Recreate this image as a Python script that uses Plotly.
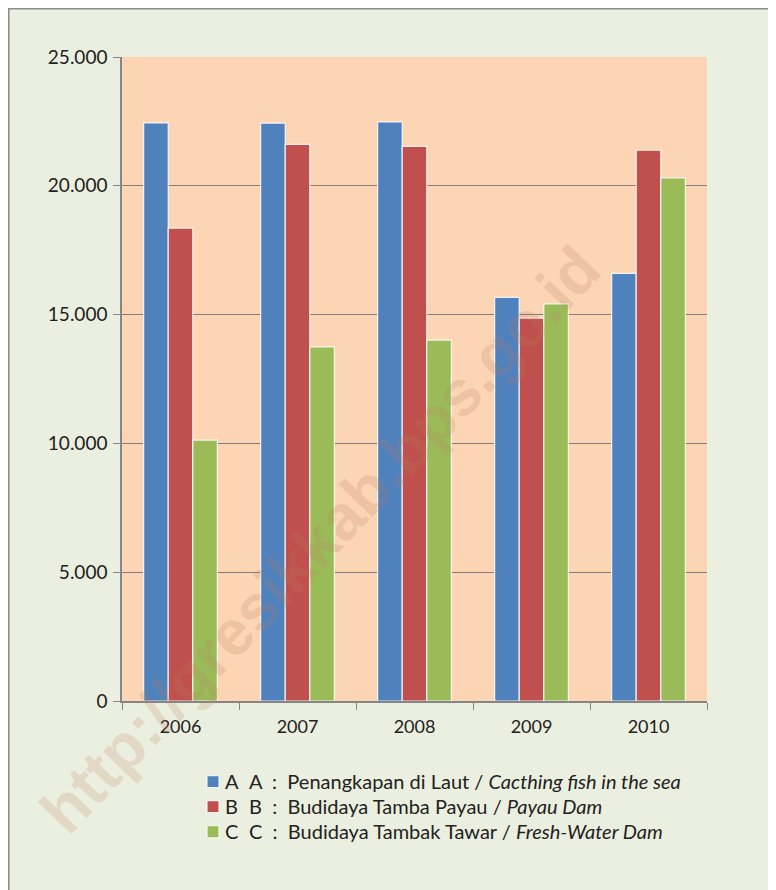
import plotly.graph_objects as go

years = ["2006", "2007", "2008", "2009", "2010"]
series_a = [22440, 22430, 22480, 15670, 16600]
series_b = [18360, 21610, 21530, 14860, 21380]
series_c = [10130, 13750, 14010, 15420, 20310]
legend_letters = ["A", "B", "C"]
descriptions = [
    "A\u00a0\u00a0:\u00a0\u00a0Penangkapan di Laut / <i>Cacthing fish in the sea</i>",
    "B\u00a0\u00a0:\u00a0\u00a0Budidaya Tamba Payau / <i>Payau Dam</i>",
    "C\u00a0\u00a0:\u00a0\u00a0Budidaya Tambak Tawar / <i>Fresh-Water Dam</i>",
]
colors = ["#4F81BD", "#C0504D", "#9BBB59"]
y_ticks = [0, 5000, 10000, 15000, 20000, 25000]
y_tick_text = ["0", "5.000", "10.000", "15.000", "20.000", "25.000"]
watermark = "http://gresikkab.bps.go.id"

FONT = "Lato, Noto Sans, sans-serif"

fig = go.Figure()
for vals, letter, col in zip([series_a, series_b, series_c], legend_letters, colors):
    fig.add_trace(go.Bar(
        x=years, y=vals, name="\u00a0", legendgroup=letter,
        hovertext=letter,
        marker=dict(color=col, line=dict(color="rgba(255,255,255,0.85)", width=1.2)),
    ))

# page body has an 8px margin; coordinates below are in reference-page pixels
OFF = 8
W, H = 768, 882
PL, PR, PT, PB = 122, 707, 57, 701  # plot area in page pixels
L = PL - OFF
T = PT - OFF
R = W - (PR - OFF)
B = H - (PB - OFF)


def px_x(p):
    return (p - PL) / (PR - PL)


def px_y(p):
    return (PB - p) / (PB - PT)


annotations = [
    dict(text="<b>" + watermark + "</b>", xref="paper", yref="paper",
         x=px_x(320), y=px_y(540), xanchor="center", yanchor="middle",
         showarrow=False, textangle=-46.5,
         font=dict(family="Liberation Sans, Arial, sans-serif", size=64,
                   color="rgba(185,125,95,0.2)")),
]
for i, (letter, d) in enumerate(zip(legend_letters, descriptions)):
    yy = px_y(781 + 25 * i)
    annotations.append(dict(
        text=letter, xref="paper", yref="paper", x=px_x(223), y=yy,
        xanchor="left", yanchor="middle", showarrow=False,
        font=dict(family=FONT, size=20, color="#222222"),
    ))
    annotations.append(dict(
        text=d, xref="paper", yref="paper", x=px_x(247), y=yy,
        xanchor="left", yanchor="middle", showarrow=False,
        font=dict(family=FONT, size=20, color="#222222"),
    ))

fig.update_layout(
    width=W, height=H,
    margin=dict(l=L, r=R, t=T, b=B),
    paper_bgcolor="#EBEFDF",
    plot_bgcolor="#FCD5B5",
    barmode="group",
    bargap=0.37,
    bargroupgap=0.0,
    font=dict(family=FONT, size=18, color="#222222"),
    showlegend=True,
    legend=dict(
        x=px_x(193), y=px_y(764), xanchor="left", yanchor="top",
        bgcolor="rgba(0,0,0,0)", font=dict(family=FONT, size=17, color="#222222"),
        tracegroupgap=0, itemwidth=30,
    ),
    xaxis=dict(
        type="category", showline=True, linecolor="#868686", linewidth=1.5,
        ticks="outside", tickson="boundaries", ticklen=7, tickcolor="#868686",
        showgrid=False, tickfont=dict(size=18), ticklabelstandoff=9,
    ),
    yaxis=dict(
        range=[0, 25000], tickvals=y_ticks, ticktext=y_tick_text,
        showline=True, linecolor="#868686", linewidth=1.5,
        ticks="outside", ticklen=7, tickcolor="#868686",
        showgrid=True, gridcolor="#7F7F7F", gridwidth=1, zeroline=False,
        tickfont=dict(size=19), ticklabelstandoff=2,
    ),
    shapes=[
        dict(type="line", xref="paper", yref="paper",
             x0=px_x(8.8), x1=px_x(8.8), y0=px_y(890), y1=px_y(8),
             line=dict(color="#8C8C8C", width=1.6)),
        dict(type="line", xref="paper", yref="paper",
             x0=px_x(8), x1=px_x(776), y0=px_y(8.8), y1=px_y(8.8),
             line=dict(color="#8C8C8C", width=1.6)),
    ],
    annotations=annotations,
)

fig.write_html("out.html")
